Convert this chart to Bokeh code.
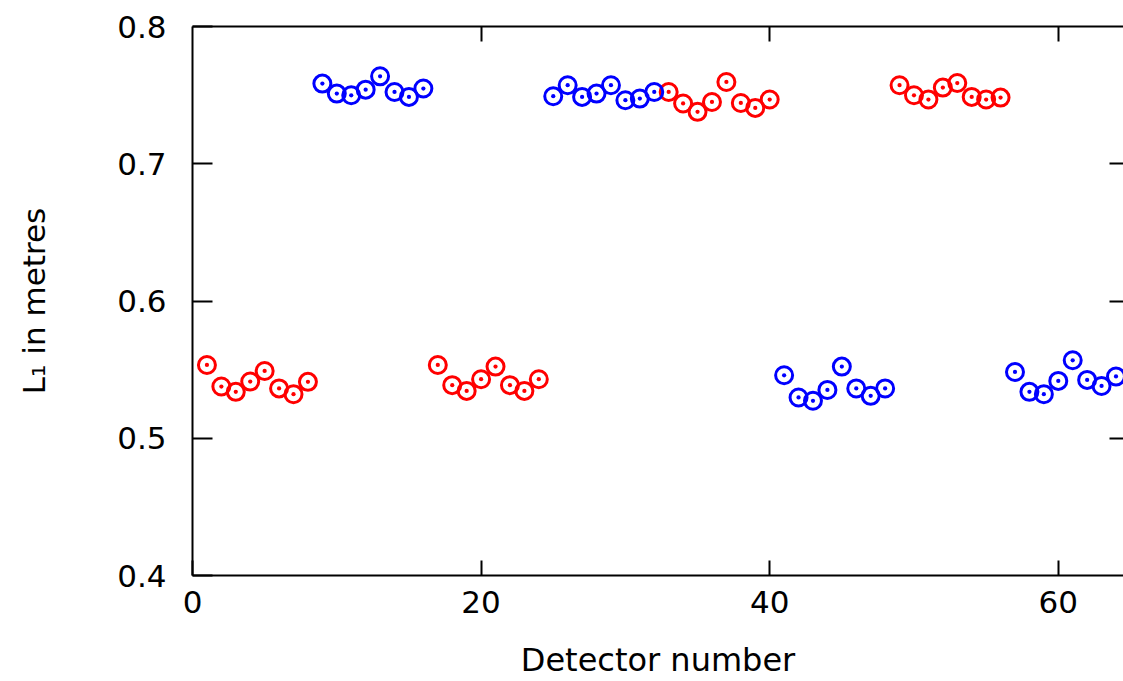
from bokeh.plotting import figure
from bokeh.models import LinearAxis, FixedTicker, Range1d
from bokeh.embed import file_html
from bokeh.resources import INLINE

# Detector numbers and L1 values (metres), red and blue groups
red_detectors = [1, 2, 3, 4, 5, 6, 7, 8,
                 17, 18, 19, 20, 21, 22, 23, 24,
                 33, 34, 35, 36, 37, 38, 39, 40,
                 49, 50, 51, 52, 53, 54, 55, 56]
red_l1 = [0.5534, 0.5377, 0.5338, 0.5413, 0.5490, 0.5363, 0.5321, 0.5411,
          0.5534, 0.5387, 0.5345, 0.5430, 0.5522, 0.5387, 0.5345, 0.5430,
          0.7523, 0.7439, 0.7378, 0.7450, 0.7596, 0.7443, 0.7407, 0.7468,
          0.7572, 0.7499, 0.7468, 0.7555, 0.7588, 0.7487, 0.7468, 0.7482]

blue_detectors = [9, 10, 11, 12, 13, 14, 15, 16,
                  25, 26, 27, 28, 29, 30, 31, 32,
                  41, 42, 43, 44, 45, 46, 47, 48,
                  57, 58, 59, 60, 61, 62, 63, 64]
blue_l1 = [0.7584, 0.7511, 0.7499, 0.7540, 0.7637, 0.7523, 0.7487, 0.7548,
           0.7492, 0.7572, 0.7487, 0.7511, 0.7572, 0.7463, 0.7475, 0.7523,
           0.5459, 0.5297, 0.5273, 0.5352, 0.5522, 0.5363, 0.5309, 0.5363,
           0.5483, 0.5338, 0.5321, 0.5418, 0.5568, 0.5425, 0.5381, 0.5450]

x_ticks = [0, 20, 40, 60]
y_ticks = [0.4, 0.5, 0.6, 0.7, 0.8]
top_ticks = [20, 40, 60]
right_ticks = [0.5, 0.6, 0.7]

FONT = "DejaVu Sans"

p = figure(width=1123, height=681,
           x_range=Range1d(0, 64.52), y_range=Range1d(0.4, 0.8),
           output_backend="svg", toolbar_location=None,
           x_axis_label="Detector number", y_axis_label="L\u2081 in metres",
           min_border_left=192, min_border_right=0,
           min_border_top=26, min_border_bottom=104)
p.outline_line_color = None
p.grid.visible = False
p.background_fill_color = "white"
p.border_fill_color = "white"

xa = p.xaxis[0]
xa.ticker = FixedTicker(ticks=x_ticks)
xa.major_tick_in = 15
xa.major_tick_out = 0
xa.minor_tick_line_color = None
xa.axis_line_width = 2
xa.major_tick_line_width = 2
xa.major_label_text_font = FONT
xa.major_label_text_font_size = "31px"
xa.major_label_text_color = "black"
xa.major_label_standoff = 15
xa.axis_label_text_font = FONT
xa.axis_label_text_font_size = "32px"
xa.axis_label_text_font_style = "normal"
xa.axis_label_text_color = "black"
xa.axis_label_standoff = 25

ya = p.yaxis[0]
ya.ticker = FixedTicker(ticks=y_ticks)
ya.major_tick_in = 20
ya.major_tick_out = 0
ya.minor_tick_line_color = None
ya.axis_line_width = 2
ya.major_tick_line_width = 2
ya.major_label_text_font = FONT
ya.major_label_text_font_size = "31px"
ya.major_label_text_color = "black"
ya.major_label_standoff = 26
ya.axis_label_text_font = FONT
ya.axis_label_text_font_size = "31px"
ya.axis_label_text_font_style = "normal"
ya.axis_label_text_color = "black"
ya.axis_label_standoff = 62

top = LinearAxis(ticker=FixedTicker(ticks=top_ticks),
                 major_label_text_font_size="1px", major_label_text_color=None,
                 major_label_standoff=0,
                 major_tick_in=15, major_tick_out=0,
                 minor_tick_line_color=None, axis_line_width=2,
                 major_tick_line_width=2)
p.add_layout(top, "above")

right = LinearAxis(ticker=FixedTicker(ticks=right_ticks),
                   major_label_text_font_size="1px", major_label_text_color=None,
                   major_label_standoff=0,
                   major_tick_in=14, major_tick_out=0,
                   minor_tick_line_color=None, axis_line_color=None,
                   major_tick_line_width=2)
p.add_layout(right, "right")

p.scatter(red_detectors, red_l1, marker="circle_dot", size=17,
          line_color="#ff0000", line_width=3, fill_color=None)
p.scatter(blue_detectors, blue_l1, marker="circle_dot", size=17,
          line_color="#0000ff", line_width=3, fill_color=None)

open("out.html", "w").write(file_html(p, INLINE))
